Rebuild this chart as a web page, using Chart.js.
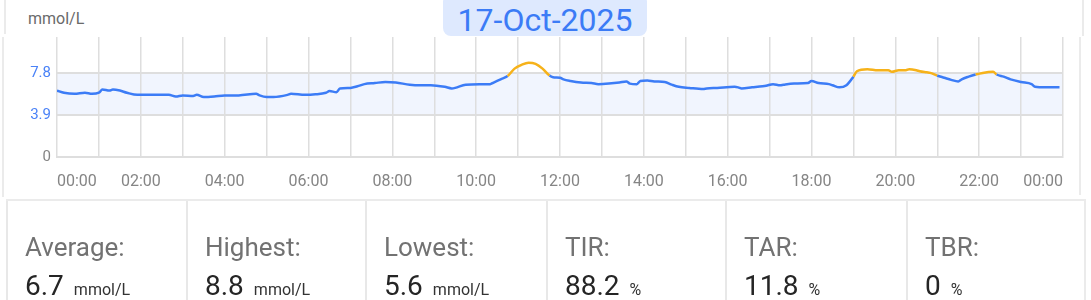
<!DOCTYPE html>
<html lang="en">
<head>
    <meta charset="UTF-8">
    <title>Glucose 17-Oct-2025</title>
    <script src="https://cdn.jsdelivr.net/npm/chart.js"></script>
    <style>
        body { margin: 0; width: 1091px; height: 300px; overflow: hidden; background: #fff; font-family: Roboto, "Noto Sans", sans-serif; position: relative; }
        .line { position: absolute; background: #ebebeb; }
        #unit { position: absolute; left: 28px; top: 9px; font-family: Roboto, sans-serif; font-size: 16px; line-height: 19px; color: #6a6a6a; }
        #date { position: absolute; left: 443px; top: -6px; width: 204px; height: 42px; border-radius: 8px; background: #dee9fe; color: #3b7bf6; font-size: 32px; line-height: 36px; text-align: center; padding-top: 8px; box-sizing: border-box; }
        #chartBox { position: absolute; left: 0; top: 22px; width: 1080px; height: 183px; }
        .cell { position: absolute; top: 201px; height: 99px; border-left: 2px solid #e8e8e8; }
        .cell .lbl { position: absolute; left: 17px; top: 31px; font-size: 26px; line-height: 30px; color: #727272; white-space: nowrap; }
        .cell .val { position: absolute; left: 17px; top: 69px; font-size: 28px; line-height: 32px; color: #252525; white-space: nowrap; }
        .cell .val small { font-size: 16px; color: #333; margin-left: 10px; }
    </style>
</head>
<body>
    <div class="line" style="left:4px;top:0;width:2px;height:34px"></div>
    <div class="line" style="left:1082px;top:0;width:2px;height:36px"></div>
    <div class="line" style="left:2px;top:37px;width:2px;height:160px"></div>
    <div class="line" style="left:1079px;top:37px;width:2px;height:158px"></div>
    <div class="line" style="left:6px;top:199px;width:1080px;height:2px"></div>
    <div class="line" style="left:1084px;top:199px;width:2px;height:101px"></div>

    <div id="unit">mmol/L</div>
    <div id="date">17-Oct-2025</div>
    <div id="chartBox"><canvas id="glucoseChart"></canvas></div>
    <div id="stats"></div>

    <script>
        // minutes since midnight, readings in mmol/L
        const minutes = [0, 10, 25, 40, 50, 60, 65, 75, 80, 90, 100, 115, 140, 160, 170, 180, 195, 200, 210, 225,
            240, 260, 285, 290, 300, 310, 330, 335, 355, 370, 385, 390, 400, 405, 420, 430, 440, 455, 470, 485,
            505, 520, 535, 555, 565, 570, 585, 605, 620, 625, 635, 645, 655, 665, 675, 685, 695, 705, 710, 720,
            725, 735, 750, 765, 775, 790, 805, 815, 820, 830, 835, 845, 855, 870, 880, 890, 905, 925, 930, 945,
            970, 975, 980, 995, 1010, 1015, 1025, 1035, 1040, 1055, 1075, 1080, 1090, 1105, 1110, 1120, 1130, 1140, 1145, 1160,
            1175, 1190, 1195, 1205, 1215, 1220, 1230, 1235, 1245, 1250, 1260, 1270, 1280, 1290, 1295, 1305, 1315, 1325, 1340, 1345,
            1355, 1365, 1380, 1395, 1400, 1415, 1435];
        const glucose = [6.2, 6.0, 5.9, 6.0, 5.9, 6.0, 6.3, 6.2, 6.3, 6.2, 6.0, 5.8, 5.8, 5.8, 5.65, 5.75, 5.7, 5.8, 5.6, 5.65,
            5.75, 5.75, 5.9, 5.75, 5.6, 5.6, 5.8, 5.9, 5.8, 5.85, 6.0, 6.15, 6.05, 6.4, 6.45, 6.6, 6.8, 6.9, 7.0, 6.95,
            6.75, 6.7, 6.7, 6.55, 6.4, 6.45, 6.75, 6.8, 6.8, 6.95, 7.25, 7.55, 8.25, 8.6, 8.8, 8.7, 8.25, 7.6, 7.45, 7.4,
            7.25, 7.1, 6.95, 6.9, 6.8, 6.85, 6.95, 7.05, 6.85, 6.8, 7.1, 7.15, 7.05, 7.0, 6.75, 6.55, 6.45, 6.35, 6.4, 6.45,
            6.55, 6.5, 6.4, 6.5, 6.6, 6.65, 6.8, 6.7, 6.75, 6.85, 6.9, 7.1, 6.9, 6.8, 6.7, 6.5, 6.7, 7.5, 8.0, 8.2,
            8.1, 8.1, 7.95, 8.1, 8.1, 8.2, 8.1, 8.0, 7.9, 7.85, 7.6, 7.4, 7.2, 7.05, 7.25, 7.5, 7.7, 7.85, 7.95, 7.7,
            7.5, 7.25, 7.0, 6.8, 6.55, 6.5, 6.5];
        const yTicks = [0, 3.9, 7.8];
        const targetLow = 3.9;
        const targetHigh = 7.8;

        const statLabels = ["Average:", "Highest:", "Lowest:", "TIR:", "TAR:", "TBR:"];
        const statValues = ["6.7", "8.8", "5.6", "88.2", "11.8", "0"];
        const statUnits = ["mmol/L", "mmol/L", "mmol/L", "%", "%", "%"];

        const BLUE = "#3c7cf6";
        const ORANGE = "#f6b21a";

        // stat cells
        const cellLeft = [6, 186, 365, 546, 725, 906];
        const statsEl = document.getElementById("stats");
        statLabels.forEach((lbl, i) => {
            const c = document.createElement("div");
            c.className = "cell";
            c.style.left = cellLeft[i] + "px";
            c.style.width = ((cellLeft[i + 1] || 1084) - cellLeft[i]) + "px";
            c.innerHTML = `<div class="lbl">${lbl}</div><div class="val">${statValues[i]}<small>${statUnits[i]}</small></div>`;
            statsEl.appendChild(c);
        });

        function hhmm(m) {
            const h = Math.floor(m / 60) % 24;
            return String(h).padStart(2, "0") + ":00";
        }

        const targetBand = {
            id: "targetBand",
            beforeDraw(chart) {
                const { ctx, chartArea, scales } = chart;
                const top = scales.y.getPixelForValue(targetHigh);
                const bottom = scales.y.getPixelForValue(targetLow);
                ctx.save();
                ctx.fillStyle = "#f1f5fe";
                ctx.fillRect(chartArea.left, top, chartArea.right - chartArea.left, bottom - top);
                ctx.restore();
            }
        };

        new Chart(document.getElementById("glucoseChart"), {
            type: "line",
            data: {
                datasets: [{
                    data: minutes.map((m, i) => ({ x: m, y: glucose[i] })),
                    borderColor: BLUE,
                    borderWidth: 2.5,
                    pointRadius: 0,
                    cubicInterpolationMode: "monotone",
                    segment: {
                        borderColor: c => (c.p0.parsed.y > targetHigh || c.p1.parsed.y > targetHigh) ? ORANGE : BLUE
                    }
                }]
            },
            options: {
                responsive: true,
                maintainAspectRatio: false,
                animation: false,
                layout: { padding: { top: 0, right: 17, left: 0, bottom: 0 } },
                plugins: { legend: { display: false }, tooltip: { enabled: false } },
                scales: {
                    x: {
                        type: "linear",
                        min: 0,
                        max: 1440,
                        afterFit: s => { s.height = 48; },
                        afterBuildTicks: s => {
                            s.ticks = [];
                            for (let m = 0; m <= 1440; m += 60) s.ticks.push({ value: m });
                        },
                        grid: { color: "#dedede", lineWidth: 1.5, drawTicks: false },
                        border: { color: "#dedede", width: 2 },
                        ticks: {
                            autoSkip: false,
                            maxRotation: 0,
                            align: "inner",
                            padding: 15,
                            color: "#858585",
                            font: { family: "Roboto", size: 16 },
                            callback: v => (v % 120 === 0) ? hhmm(v) : ""
                        }
                    },
                    y: {
                        min: 0,
                        max: 11.2,
                        afterFit: s => { s.width = 57; },
                        afterBuildTicks: s => { s.ticks = yTicks.map(v => ({ value: v })); },
                        grid: { color: "#dedede", lineWidth: 2, drawTicks: false },
                        border: { display: false },
                        ticks: {
                            padding: 6,
                            color: c => c.tick.value === 0 ? "#858585" : "#4a82f7",
                            font: { family: "Roboto", size: 15 }
                        }
                    }
                }
            },
            plugins: [targetBand]
        });
    </script>
</body>
</html>
